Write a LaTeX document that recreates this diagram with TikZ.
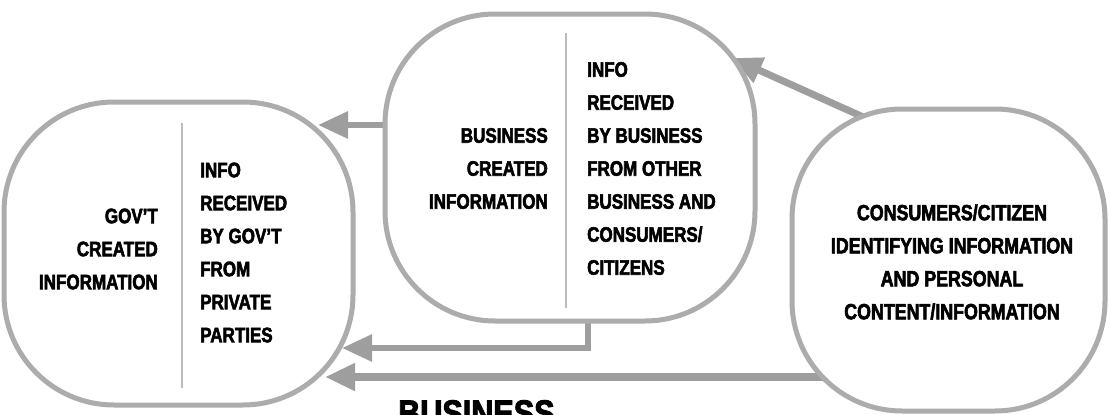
\documentclass[tikz,border=0pt]{standalone}
\usepackage{fontspec}
\newfontfamily\condfont[FakeStretch=0.81,FakeBold=2.6,UprightFont=* Bold]{Liberation Sans}
\newfontfamily\titlefont[FakeStretch=0.85,FakeBold=2.6,UprightFont=* Bold]{Liberation Sans}
\usetikzlibrary{arrows.meta,calc}

\pgfdeclarelayer{paper}
\pgfdeclarelayer{flows}
\pgfsetlayers{paper,flows,main}

\definecolor{rim}{RGB}{172,172,172}
\definecolor{flow}{RGB}{158,158,158}
\definecolor{rulegray}{RGB}{188,188,188}

\tikzset{
  blob/.style={draw=rim, line width=5pt, rounded corners=110pt, fill=white,
               inner sep=0pt, outer sep=0pt},
  lbl/.style={inner sep=0pt, text=black,
              font=\condfont\fontsize{21}{33}\selectfont},
  biglbl/.style={inner sep=0pt, text=black,
              font=\condfont\fontsize{22}{33}\selectfont},
  divider/.style={draw=rulegray, line width=2pt},
  flowarrow/.style={draw=flow, line width=7pt,
                    -{Triangle[length=30pt,width=26pt]}},
}

\begin{document}
\begin{tikzpicture}[x=1pt,y=-1pt]
  \useasboundingbox (0,0) rectangle (1109,415);
  \begin{pgfonlayer}{paper}
    \fill[white] (0,0) rectangle (1109,415);
  \end{pgfonlayer}

  % the three information pools
  \node[blob, minimum width=349pt, minimum height=303pt] (gov) at (178.5,253.5) {};
  \node[blob, minimum width=370pt, minimum height=307pt] (biz) at (570,167.5) {};
  \node[blob, minimum width=313pt, minimum height=302pt] (con) at (948.5,260) {};

  % split lines inside the two left pools
  \draw[divider] (182,123) -- (182,388);
  \draw[divider] (566,33) -- (566,308);

  % government pool
  \node[lbl, align=right, anchor=east] (govown) at (158,249)
    {GOV’T\\CREATED\\INFORMATION};
  \node[lbl, align=left, anchor=west] (govrecv) at (200,252.5)
    {INFO\\RECEIVED\\BY GOV’T\\FROM\\PRIVATE\\PARTIES};

  % business pool
  \node[lbl, align=right, anchor=east] (bizown) at (548,168.5)
    {BUSINESS\\CREATED\\INFORMATION};
  \node[lbl, align=left, anchor=west] (bizrecv) at (587,168.5)
    {INFO\\RECEIVED\\BY BUSINESS\\FROM OTHER\\BUSINESS AND\\CONSUMERS/\\CITIZENS};

  % consumer pool
  \node[biglbl, align=center] (conown) at (952,262)
    {CONSUMERS/CITIZEN\\IDENTIFYING INFORMATION\\AND PERSONAL\\CONTENT/INFORMATION};

  % caption, cut by the lower edge
  \node[inner sep=0pt, anchor=north west, text=black,
        font=\titlefont\fontsize{36}{40}\selectfont] (caption) at (398,400) {BUSINESS};

  % flows between the pools, kept beneath the pools
  \coordinate (tipA) at (318,125);
  \coordinate (tipB) at (732,58);
  \coordinate (tipC) at (342,348);
  \coordinate (tipD) at (325,377);
  \begin{pgfonlayer}{flows}
    \draw[flowarrow, line width=6pt] (biz.center |- tipA) -- (tipA);
    \draw[flowarrow] ($(con.north west)+(80,12)$) -- (tipB);
    \draw[flowarrow, line width=6pt] ($(biz.south)+(18,-6)$) |- (tipC);
    \draw[flowarrow, line width=8pt] (con.center |- tipD) -- (tipD);
  \end{pgfonlayer}
\end{tikzpicture}
\end{document}
